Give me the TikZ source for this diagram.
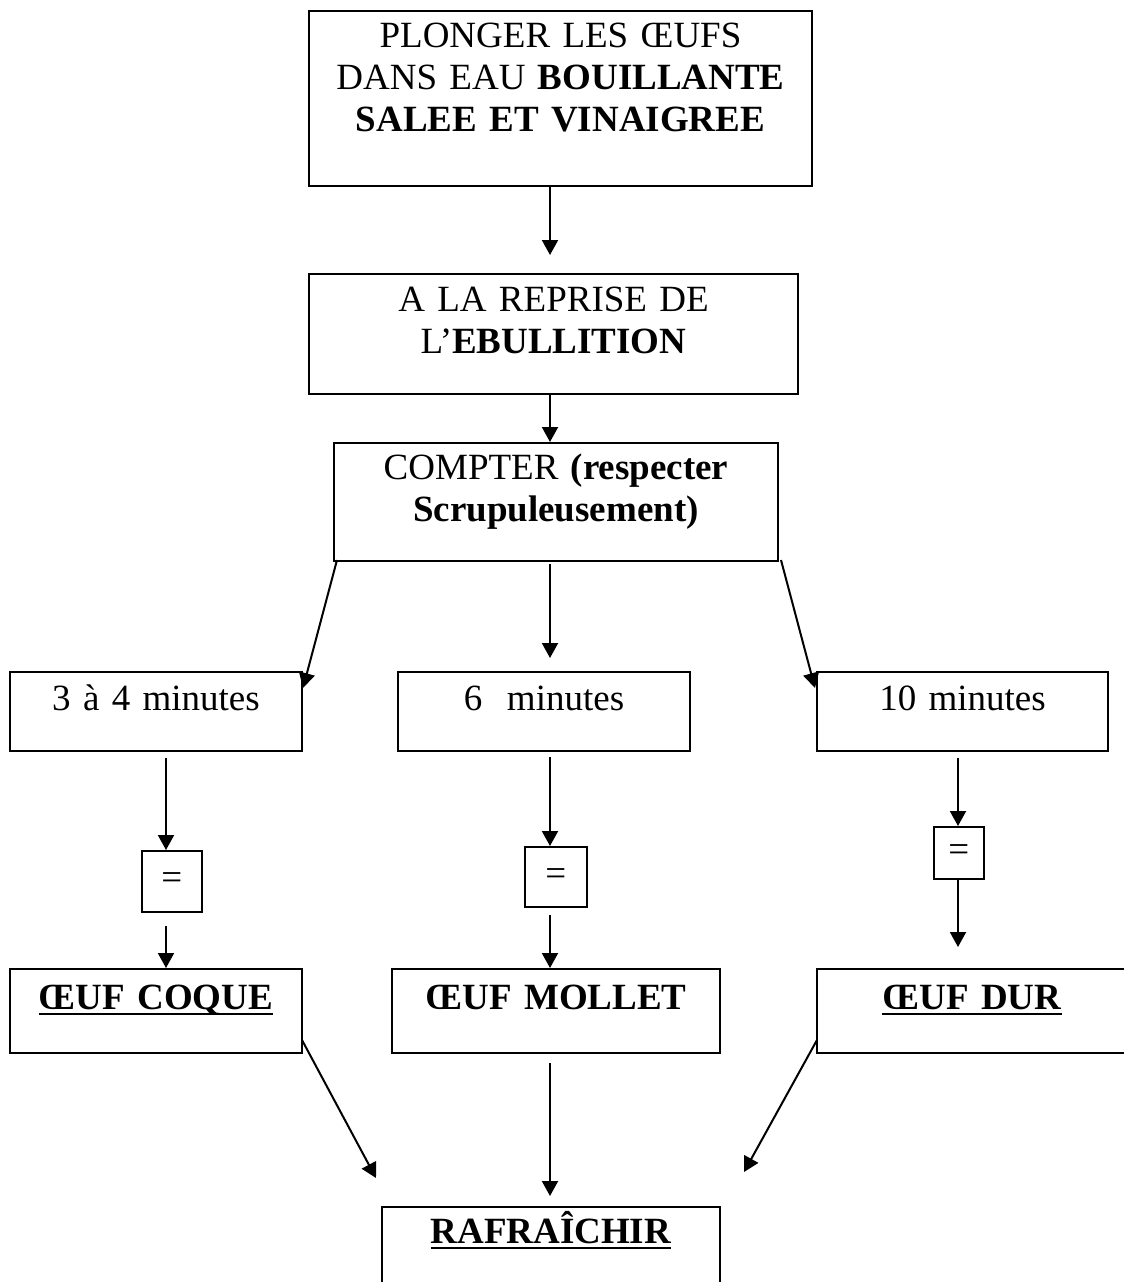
\documentclass[tikz,border=0pt]{standalone}
\usepackage{fontspec}
\setmainfont{Liberation Serif}
\usepackage{tikz}
\usetikzlibrary{calc,arrows.meta}
\newcommand\souligne[1]{\setbox0\hbox{\textbf{#1}}\rlap{\rule[-3pt]{\wd0}{1pt}}\box0}
\tikzset{
	box/.style={draw, line width=1pt, inner sep=0pt, anchor=north west, align=center},
	eqbox/.style={draw, line width=0.8pt, inner sep=0pt, anchor=north west},
	arr/.style={-{Triangle[length=7.5pt,width=8pt]}, line width=1pt}
}
\begin{document}
\begin{tikzpicture}[x=0.5pt, y=-0.5pt, font=\fontsize{18.5}{21}\selectfont]
		%%%%% START %%%%%
		\useasboundingbox (0,0) rectangle (1124,1282);
		
		\coordinate (axea) at (166,0);
		\coordinate (axe) at (550,0);
		\coordinate (axec) at (958,0);
		
		\node[box, text width=251.5pt, text height=18pt, text depth=69.5pt] (plonger) at (308,10) {PLONGER LES ŒUFS\\DANS EAU \textbf{BOUILLANTE}\\\textbf{SALEE ET VINAIGREE}};
		\node[box, text width=244.5pt, text height=18.5pt, text depth=41.5pt] (reprise) at (308,273) {A LA REPRISE DE\\L’\textbf{EBULLITION}};
		\node[box, text width=222pt, text height=18pt, text depth=41pt] (compter) at (333,442) {COMPTER \textbf{(respecter}\\\textbf{Scrupuleusement)}};
		
		\node[box, text width=146pt, text height=19pt, text depth=20.5pt] (mina) at (9,671) {3 à 4 minutes};
		\node[box, text width=146pt, text height=19pt, text depth=20.5pt] (minb) at (397,671) {6 \ minutes};
		\node[box, text width=145.5pt, text height=19pt, text depth=20.5pt] (minc) at (816,671) {10 minutes};
		
		\node[eqbox, minimum width=30pt, minimum height=30.5pt] (eqa) at (141,850) {=};
		\node[eqbox, minimum width=31pt, minimum height=30pt] (eqb) at (524,846) {=};
		\node[eqbox, minimum width=25pt, minimum height=26pt] (eqc) at (933,826) {=};
		
		\node[box, text width=146pt, text height=20pt, text depth=22pt] (coque) at (9,968) {\souligne{ŒUF COQUE}};
		\node[box, text width=164pt, text height=20pt, text depth=22pt] (mollet) at (391,968) {\textbf{ŒUF MOLLET}};
		\node[box, text width=155pt, text height=20pt, text depth=22pt] (dur) at (816,968) {\souligne{ŒUF DUR}};
		
		\node[box, text width=169pt, text height=18pt, text depth=32pt] (rafr) at (381,1206) {\souligne{RAFRAÎCHIR}};
		
		\draw[arr, shorten >=9pt] (plonger.south -| axe) -- (reprise.north -| axe);
		\draw[arr] (reprise.south -| axe) -- (compter.north -| axe);
		
		\draw[arr] ($(compter.south west)+(4,-2)$) -- ($(mina.north east)+(0,17)$);
		\draw[arr, shorten <=1pt, shorten >=6.5pt] (compter.south -| axe) -- (minb.north -| axe);
		\draw[arr] ($(compter.south east)+(2,-2)$) -- ($(minc.north west)+(-1,17)$);
		
		\draw[arr, shorten <=3pt] (mina.south -| axea) -- (eqa.north -| axea);
		\draw[arr, shorten <=6.5pt] (eqa.south -| axea) -- (coque.north -| axea);
		\draw[arr, shorten <=2.5pt] (minb.south -| axe) -- (eqb.north -| axe);
		\draw[arr, shorten <=3.5pt] (eqb.south -| axe) -- (mollet.north -| axe);
		\draw[arr, shorten <=3pt] (minc.south -| axec) -- (eqc.north -| axec);
		\draw[arr, shorten >=10.5pt] (eqc.south -| axec) -- (dur.north -| axec);
		
		\draw[arr] ($(coque.south east)+(-1,-14)$) -- ($(rafr.north west)+(-5,-28)$);
		\draw[arr, shorten <=4.5pt, shorten >=5pt] (mollet.south -| axe) -- (rafr.north -| axe);
		\draw[arr] ($(dur.south west)+(1,-14)$) -- ($(rafr.north east)+(23,-34)$);
		%%%%% END %%%%%
\end{tikzpicture}
\end{document}
